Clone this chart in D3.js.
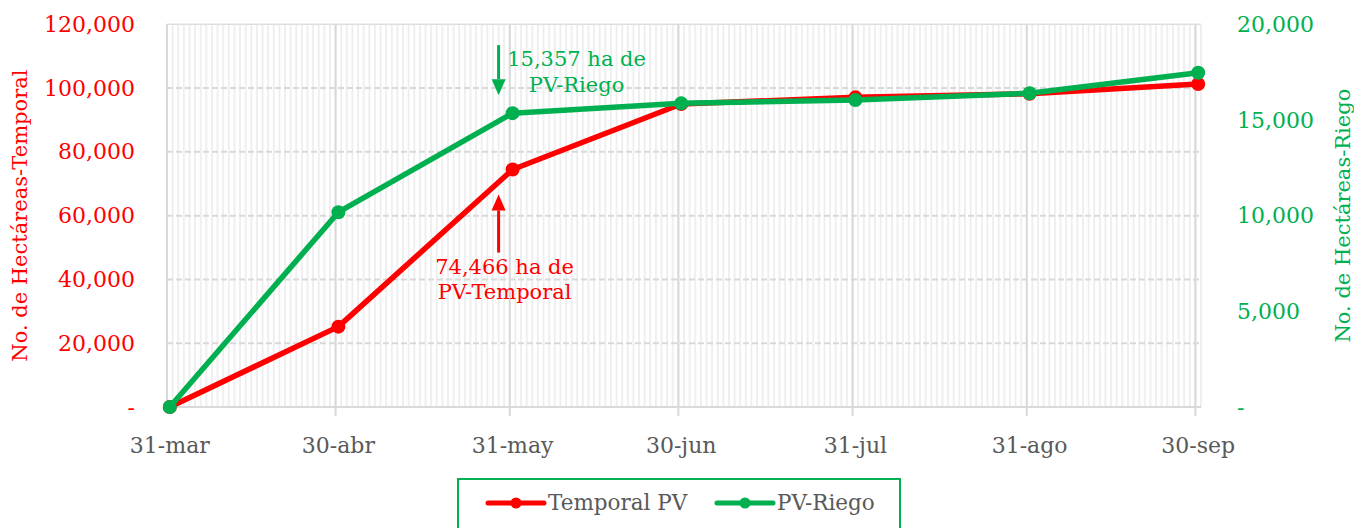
<!DOCTYPE html>
<html>
<head>
<meta charset="utf-8">
<script src="https://cdn.jsdelivr.net/npm/d3@7"></script>
<style>
  body { margin: 0; background: #fff; }
  svg { font-family: "DejaVu Serif", serif; }
</style>
</head>
<body>
<script>
// month-end dates of the chart
var fechas = ["2020-03-31", "2020-04-30", "2020-05-31", "2020-06-30", "2020-07-31", "2020-08-31", "2020-09-30"];
var etiquetas = ["31-mar", "30-abr", "31-may", "30-jun", "31-jul", "31-ago", "30-sep"];
// hectares, temporal (left axis)
var temporal = [0, 25200, 74466, 95000, 97100, 98200, 101300];
// hectares, riego (right axis)
var riego = [0, 10180, 15357, 15870, 16045, 16395, 17470];
var ticksIzq = [0, 20000, 40000, 60000, 80000, 100000, 120000];
var ticksDer = [0, 5000, 10000, 15000, 20000];

var width = 1354, height = 528;
var margin = { top: 24.3, right: 153, bottom: 121, left: 167 };
var rojo = "#ff0000", verde = "#00b050", gris = "#595959";

var parse = d3.utcParse("%Y-%m-%d");
var dates = fechas.map(parse);
var start = dates[0], end = d3.utcDay.offset(dates[dates.length - 1], 1);

var svg = d3.select("body").append("svg")
    .attr("width", width)
    .attr("height", height);

var x = d3.scaleUtc()
    .domain([start, end])
    .range([margin.left, width - margin.right]);
var yL = d3.scaleLinear().domain([0, 120000]).range([height - margin.bottom, margin.top]);
var yR = d3.scaleLinear().domain([0, 20000]).range([height - margin.bottom, margin.top]);

// points sit in the middle of their day
function xc(d) { return x(d3.utcHour.offset(d, 12)); }

var plotBottom = height - margin.bottom, plotTop = margin.top;

//minor vertical gridlines, one per day
svg.append("g")
    .selectAll("line")
    .data(d3.utcDay.range(start, d3.utcDay.offset(end, 1)))
    .join("line")
    .attr("x1", d => x(d)).attr("x2", d => x(d))
    .attr("y1", plotTop).attr("y2", plotBottom)
    .attr("stroke", "#efefef")
    .attr("stroke-width", 2);

//horizontal dashed gridlines
svg.append("g")
    .selectAll("line")
    .data(ticksIzq.slice(1, -1))
    .join("line")
    .attr("x1", margin.left).attr("x2", width - margin.right)
    .attr("y1", d => yL(d)).attr("y2", d => yL(d))
    .attr("stroke", "#d9d9d9")
    .attr("stroke-width", 2)
    .attr("stroke-dasharray", "6,3");
svg.append("line")
    .attr("x1", margin.left).attr("x2", width - margin.right)
    .attr("y1", plotTop).attr("y2", plotTop)
    .attr("stroke", "#dedede").attr("stroke-width", 1.5);

//major vertical gridlines
svg.append("g")
    .selectAll("line")
    .data(dates.slice(1))
    .join("line")
    .attr("x1", d => x(d)).attr("x2", d => x(d))
    .attr("y1", plotTop).attr("y2", plotBottom + 9)
    .attr("stroke", "#d9d9d9")
    .attr("stroke-width", 2);

//axis lines
svg.append("line")
    .attr("x1", margin.left).attr("x2", width - margin.right)
    .attr("y1", plotBottom).attr("y2", plotBottom)
    .attr("stroke", "#d9d9d9").attr("stroke-width", 2);
svg.append("line")
    .attr("x1", margin.left).attr("x2", margin.left)
    .attr("y1", plotTop).attr("y2", plotBottom + 6)
    .attr("stroke", "#d9d9d9").attr("stroke-width", 2);

var fmt = d3.format(",");
function lab(d) { return d === 0 ? "-" : fmt(d); }

//left axis
var axL = svg.append("g")
    .attr("transform", "translate(" + margin.left + ",0)")
    .call(d3.axisLeft(yL).tickValues(ticksIzq).tickFormat(lab).tickSize(0).tickPadding(32));
axL.select(".domain").remove();
axL.selectAll("text").attr("fill", rojo).style("font-size", "22px").style("font-family", "DejaVu Serif");

//right axis
var axR = svg.append("g")
    .attr("transform", "translate(" + (width - margin.right) + ",0)")
    .call(d3.axisRight(yR).tickValues(ticksDer).tickFormat(lab).tickSize(0).tickPadding(36));
axR.select(".domain").remove();
axR.selectAll("text").attr("fill", verde).style("font-size", "22px").style("font-family", "DejaVu Serif");

//bottom labels
svg.append("g")
    .selectAll("text")
    .data(dates)
    .join("text")
    .attr("x", d => xc(d))
    .attr("y", plotBottom + 46)
    .attr("text-anchor", "middle")
    .attr("fill", gris)
    .style("font-size", "22px")
    .text((d, i) => etiquetas[i]);

//axis titles
svg.append("text")
    .attr("transform", "translate(27," + ((plotTop + plotBottom) / 2) + ") rotate(-90)")
    .attr("text-anchor", "middle")
    .attr("fill", rojo)
    .style("font-size", "21px")
    .text("No. de Hectáreas-Temporal");
svg.append("text")
    .attr("transform", "translate(1350," + ((plotTop + plotBottom) / 2) + ") rotate(-90)")
    .attr("text-anchor", "middle")
    .attr("fill", verde)
    .style("font-size", "21px")
    .text("No. de Hectáreas-Riego");

//series
function serie(vals, y, color) {
    var pts = dates.map((d, i) => [xc(d), y(vals[i])]);
    svg.append("path")
        .datum(pts)
        .attr("d", d3.line())
        .attr("fill", "none")
        .attr("stroke", color)
        .attr("stroke-width", 5.5)
        .attr("stroke-linejoin", "round");
    svg.append("g")
        .selectAll("circle")
        .data(pts)
        .join("circle")
        .attr("cx", d => d[0]).attr("cy", d => d[1])
        .attr("r", 7)
        .attr("fill", color);
}
serie(temporal, yL, rojo);
serie(riego, yR, verde);

//annotations
function flecha(xa, yTail, yTip, color) {
    var dir = yTip > yTail ? 1 : -1;
    var hb = yTip - dir * 16;
    svg.append("line")
        .attr("x1", xa).attr("x2", xa)
        .attr("y1", yTail).attr("y2", hb)
        .attr("stroke", color).attr("stroke-width", 3);
    svg.append("path")
        .attr("d", "M" + (xa - 7) + "," + hb + "L" + (xa + 7) + "," + hb + "L" + xa + "," + yTip + "Z")
        .attr("fill", color);
}
var xMay = xc(dates[2]);
flecha(xMay - 14, yR(riego[2]) - 68, yR(riego[2]) - 18, verde);
flecha(xMay - 14, yL(temporal[2]) + 83, yL(temporal[2]) + 25, rojo);

var nota1 = svg.append("text")
    .attr("text-anchor", "middle")
    .attr("fill", verde)
    .style("font-size", "21px");
nota1.append("tspan").attr("x", xMay + 64).attr("y", yR(riego[2]) - 47).text(fmt(riego[2]) + " ha de");
nota1.append("tspan").attr("x", xMay + 64).attr("y", yR(riego[2]) - 21).text("PV-Riego");

var nota2 = svg.append("text")
    .attr("text-anchor", "middle")
    .attr("fill", rojo)
    .style("font-size", "21px");
nota2.append("tspan").attr("x", xMay - 8).attr("y", yL(temporal[2]) + 104).text(fmt(temporal[2]) + " ha de");
nota2.append("tspan").attr("x", xMay - 8).attr("y", yL(temporal[2]) + 129).text("PV-Temporal");

//legend
var leg = svg.append("g");
leg.append("rect")
    .attr("x", 458).attr("y", 479)
    .attr("width", 442).attr("height", 60)
    .attr("fill", "#fff")
    .attr("stroke", verde).attr("stroke-width", 2);
var items = [{ name: "Temporal PV", color: rojo, x: 488 }, { name: "PV-Riego", color: verde, x: 717 }];
items.forEach(function (it) {
    leg.append("line")
        .attr("x1", it.x).attr("x2", it.x + 56)
        .attr("y1", 503).attr("y2", 503)
        .attr("stroke", it.color).attr("stroke-width", 5)
        .attr("stroke-linecap", "round");
    leg.append("circle")
        .attr("cx", it.x + 28).attr("cy", 503).attr("r", 5.5)
        .attr("fill", it.color);
    leg.append("text")
        .attr("x", it.x + 60).attr("y", 510)
        .attr("fill", gris)
        .style("font-size", "21.5px")
        .text(it.name);
});
</script>
</body>
</html>
